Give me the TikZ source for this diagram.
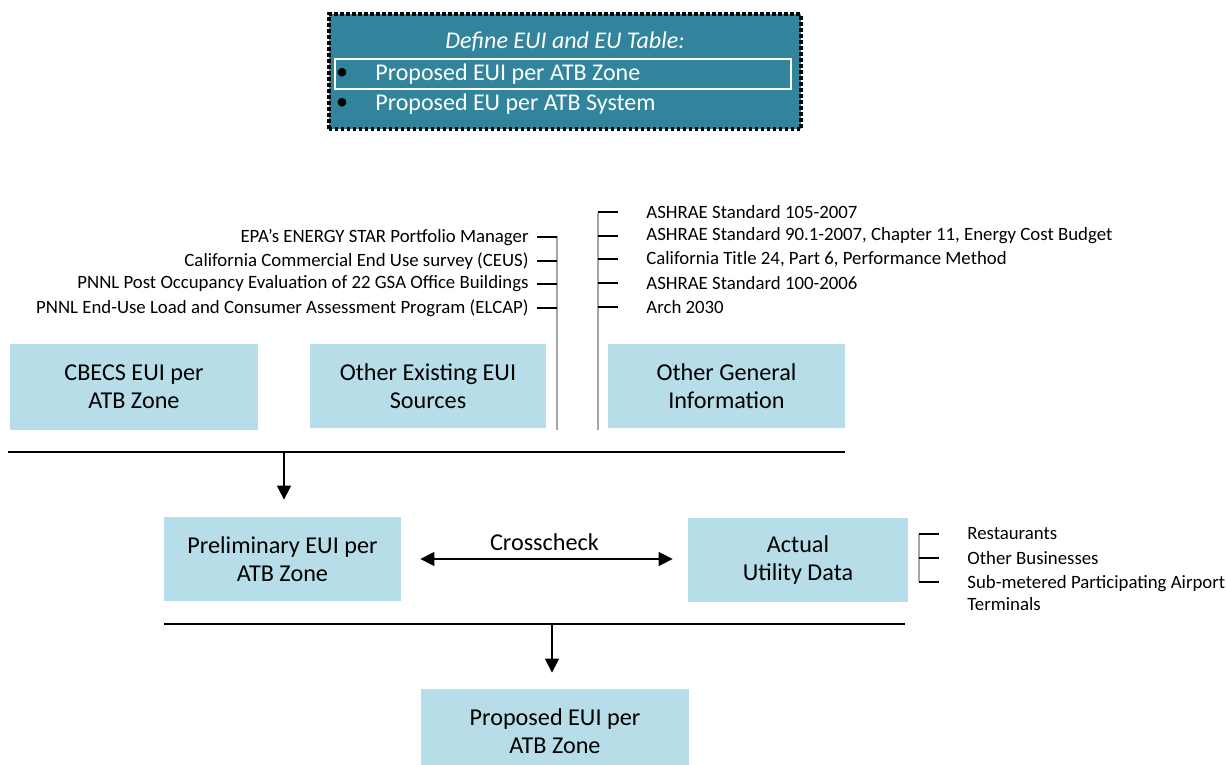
\documentclass[tikz,border=0pt]{standalone}
\usepackage{fontspec}
\setmainfont{Carlito}
\usetikzlibrary{arrows.meta}
\definecolor{bleuclair}{HTML}{B7DDE8}
\definecolor{sarcelle}{HTML}{31849B}
\definecolor{grisligne}{HTML}{A6A6A6}
\begin{document}
\begin{tikzpicture}[x=0.5pt,y=-0.5pt]
			\tikzset{boite/.style={fill=bleuclair, align=center, inner sep=0pt, font=\fontsize{12.1}{14}\selectfont},
			petit/.style={inner sep=0pt, font=\fontsize{9.4}{11}\selectfont},
			blanc/.style={inner sep=0pt, text=white, font=\fontsize{12}{15}\selectfont},
			trait/.style={line width=0.75pt},
			fleche/.style={line width=0.75pt, -{Triangle[length=7pt, width=7pt]}},
			barre/.style={line width=1pt, draw=grisligne}};

			\useasboundingbox (0,0) rectangle (1226,765);

			% tableau du haut
			\node[fill=sarcelle, draw=black, line width=2pt, dash pattern=on 1.8pt off 1.2pt,
				minimum width=236pt, minimum height=57.5pt] (tableau) at (564.5,72) {};
			\node[draw=white, line width=1.3pt, fill=sarcelle, minimum width=228pt, minimum height=15pt] (zone) at (563,74) {};
			\node[blanc, font=\fontsize{12}{15}\selectfont\itshape] (titre) at (565,42) {Define EUI and EU Table:};
			\foreach \y/\nom/\texte in {74/p1/Proposed EUI per ATB Zone, 104/p2/Proposed EU per ATB System}{
				\node[inner sep=0pt, font=\large] (puce\nom) at (342,\y) {\textbullet};
				\node[blanc, anchor=west] (\nom) at (375,\y) {\texte};
			}

			% boites
			\node[boite, minimum width=124pt, minimum height=43pt] (cbecs) at (134,387) {CBECS EUI per\\ATB Zone};
			\node[boite, minimum width=118pt, minimum height=42pt] (existant) at (428,386) {Other Existing EUI\\Sources};
			\node[boite, minimum width=118.5pt, minimum height=42pt] (general) at (726.5,386) {Other General\\Information};
			\node[boite, minimum width=118.5pt, minimum height=42pt] (prelim) at (282.5,559) {Preliminary EUI per\\ATB Zone};
			\node[boite, minimum width=110pt, minimum height=42pt] (reel) at (798,560) {Actual\\Utility Data};
			\node[boite, minimum width=134pt, minimum height=42pt] (propose) at (555,731) {Proposed EUI per\\ATB Zone};

			% sources existantes
			\coordinate (hautg) at (557,236);
			\coordinate (basg) at (557,430);
			\draw[barre] (hautg) -- (basg);
			\foreach \y/\nom/\texte in {237/epa/{EPA’s ENERGY STAR Portfolio Manager},
				261/ceus/{California Commercial End Use survey (CEUS)},
				284/gsa/{PNNL Post Occupancy Evaluation of 22 GSA Office Buildings},
				308/elcap/{PNNL End-Use Load and Consumer Assessment Program (ELCAP)}}{
				\node[petit, anchor=east] (\nom) at (529,\y) {\texte};
				\coordinate (g\nom) at (537,\y);
				\coordinate (d\nom) at (557,\y);
				\draw[trait] (g\nom) -- (d\nom);
			}

			% informations generales
			\coordinate (hautd) at (598,213);
			\coordinate (basd) at (598,430);
			\draw[barre] (hautd) -- (basd);
			\foreach \y/\nom/\texte in {212/a105/{ASHRAE Standard 105-2007},
				236/a90/{ASHRAE Standard 90.1-2007, Chapter 11, Energy Cost Budget},
				259/t24/{California Title 24, Part 6, Performance Method},
				283/a100/{ASHRAE Standard 100-2006},
				307/arch/{Arch 2030}}{
				\node[petit, anchor=west] (\nom) at (646,\y) {\texte};
				\coordinate (g\nom) at (598,\y);
				\coordinate (d\nom) at (618,\y);
				\draw[trait] (g\nom) -- (d\nom);
			}

			% donnees reelles
			\coordinate (hautr) at (919,534);
			\coordinate (basr) at (919,582);
			\draw[barre] (hautr) -- (basr);
			\foreach \y/\ytexte/\nom/\texte in {534/534/resto/{Restaurants},
				558/558/commerce/{Other Businesses},
				582/593/terminal/{Sub-metered Participating Airport\\Terminals}}{
				\node[petit, anchor=west, align=left] (\nom) at (967,\ytexte) {\texte};
				\coordinate (g\nom) at (919,\y);
				\coordinate (d\nom) at (939,\y);
				\draw[trait] (g\nom) -- (d\nom);
			}

			% lignes et fleches
			\coordinate (l1g) at (8,452);
			\coordinate (l1d) at (845,452);
			\coordinate (l1a) at (284,452);
			\draw[trait] (l1g) -- (l1d);
			\draw[fleche, shorten >=8.5pt] (l1a) -- (l1a |- prelim.north);

			\coordinate (l2g) at (164,624);
			\coordinate (l2d) at (905,624);
			\coordinate (l2a) at (552,624);
			\draw[trait] (l2g) -- (l2d);
			\draw[fleche, shorten >=8pt] (l2a) -- (l2a |- propose.north);

			\draw[line width=0.75pt, {Triangle[length=7pt, width=7pt]}-{Triangle[length=7pt, width=7pt]},
				shorten <=9.5pt, shorten >=7.5pt] (prelim.east) -- node[above=0.5pt, font=\fontsize{12.1}{14}\selectfont] (croise) {Crosscheck} (prelim.east -| reel.west);

		\end{tikzpicture}
\end{document}
